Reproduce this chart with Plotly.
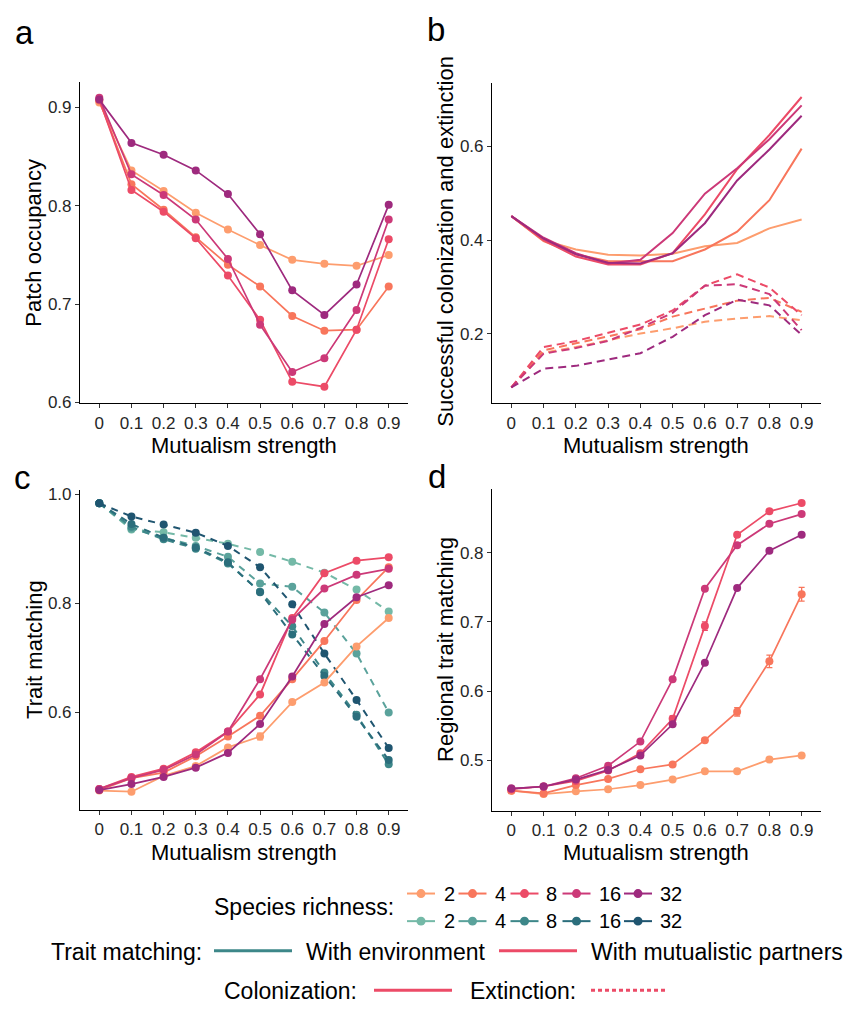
import plotly.graph_objects as go

W, H = 847, 1012

# ---------------- data ----------------
strength = [0, 0.1, 0.2, 0.3, 0.4, 0.5, 0.6, 0.7, 0.8, 0.9]
tick_labels = ["0", "0.1", "0.2", "0.3", "0.4", "0.5", "0.6", "0.7", "0.8", "0.9"]
richness = ["2", "4", "8", "16", "32"]

# a: patch occupancy
occ_2 = [0.905, 0.836, 0.815, 0.793, 0.776, 0.760, 0.745, 0.741, 0.739, 0.750]
occ_4 = [0.907, 0.822, 0.796, 0.768, 0.740, 0.718, 0.688, 0.673, 0.674, 0.718]
occ_8 = [0.908, 0.816, 0.794, 0.767, 0.729, 0.684, 0.621, 0.616, 0.674, 0.766]
occ_16 = [0.910, 0.832, 0.811, 0.786, 0.746, 0.679, 0.631, 0.645, 0.694, 0.786]
occ_32 = [0.908, 0.864, 0.852, 0.836, 0.812, 0.771, 0.714, 0.689, 0.720, 0.801]

# b: colonization (solid) and extinction (dashed)
col_2 = [0.451, 0.400, 0.380, 0.369, 0.367, 0.371, 0.387, 0.394, 0.425, 0.444]
col_4 = [0.451, 0.398, 0.370, 0.355, 0.355, 0.355, 0.380, 0.418, 0.485, 0.595]
col_8 = [0.451, 0.400, 0.365, 0.348, 0.348, 0.372, 0.455, 0.551, 0.624, 0.705]
col_16 = [0.451, 0.405, 0.372, 0.350, 0.358, 0.415, 0.499, 0.553, 0.615, 0.687]
col_32 = [0.451, 0.403, 0.370, 0.352, 0.350, 0.372, 0.436, 0.527, 0.593, 0.665]
ext_2 = [0.086, 0.160, 0.172, 0.187, 0.201, 0.212, 0.226, 0.233, 0.238, 0.229]
ext_4 = [0.086, 0.165, 0.180, 0.195, 0.210, 0.237, 0.254, 0.271, 0.277, 0.247]
ext_8 = [0.086, 0.172, 0.185, 0.202, 0.220, 0.250, 0.303, 0.327, 0.299, 0.240]
ext_16 = [0.086, 0.158, 0.170, 0.185, 0.213, 0.245, 0.303, 0.306, 0.285, 0.208]
ext_32 = [0.086, 0.126, 0.132, 0.145, 0.159, 0.194, 0.240, 0.273, 0.261, 0.198]

# c: trait matching with partners (solid) and environment (dashed)
tmp_2 = [0.457, 0.455, 0.484, 0.502, 0.536, 0.556, 0.619, 0.655, 0.721, 0.773]
tmp_4 = [0.458, 0.480, 0.490, 0.520, 0.556, 0.594, 0.661, 0.731, 0.806, 0.866]
tmp_8 = [0.460, 0.482, 0.497, 0.527, 0.565, 0.633, 0.773, 0.855, 0.878, 0.884]
tmp_16 = [0.460, 0.480, 0.495, 0.523, 0.565, 0.661, 0.770, 0.827, 0.852, 0.863]
tmp_32 = [0.458, 0.469, 0.482, 0.499, 0.526, 0.579, 0.666, 0.762, 0.811, 0.833]
tme_2 = [0.983, 0.935, 0.930, 0.920, 0.909, 0.894, 0.876, 0.856, 0.825, 0.785]
tme_4 = [0.983, 0.937, 0.920, 0.905, 0.885, 0.836, 0.830, 0.783, 0.708, 0.600]
tme_8 = [0.983, 0.940, 0.917, 0.900, 0.873, 0.821, 0.758, 0.673, 0.596, 0.505]
tme_16 = [0.983, 0.945, 0.920, 0.902, 0.875, 0.820, 0.743, 0.667, 0.592, 0.513]
tme_32 = [0.983, 0.959, 0.944, 0.929, 0.905, 0.866, 0.798, 0.708, 0.623, 0.535]
tmp_2_err = [0, 0, 0, 0, 0, 0.006, 0, 0, 0, 0]

# d: regional trait matching
reg_2 = [0.456, 0.451, 0.455, 0.458, 0.464, 0.472, 0.484, 0.484, 0.501, 0.507]
reg_4 = [0.456, 0.452, 0.464, 0.473, 0.487, 0.494, 0.529, 0.570, 0.643, 0.740]
reg_8 = [0.458, 0.462, 0.470, 0.485, 0.510, 0.560, 0.694, 0.826, 0.860, 0.872]
reg_16 = [0.459, 0.462, 0.474, 0.492, 0.527, 0.617, 0.748, 0.811, 0.842, 0.856]
reg_32 = [0.459, 0.462, 0.472, 0.486, 0.507, 0.552, 0.641, 0.749, 0.803, 0.826]
reg_4_err = [0, 0, 0, 0, 0, 0.002, 0.003, 0.006, 0.009, 0.010]
reg_8_err = [0, 0, 0, 0, 0, 0.004, 0.006, 0.003, 0, 0]

warm = ["#FD9D6E", "#F8765C", "#EC4B67", "#CC3978", "#9E2A7E"]
teal = ["#74B9A7", "#5AA29B", "#3D8789", "#2B6E7C", "#1F5570"]

FONT = "Liberation Sans, Arial, sans-serif"


def px(x):
    return x / W


def py(y):
    return 1 - y / H


fig = go.Figure()

# ---------------- traces ----------------
occ = [occ_2, occ_4, occ_8, occ_16, occ_32]
for i, s in enumerate(occ):
    fig.add_trace(go.Scatter(x=strength, y=s, mode="lines+markers", xaxis="x", yaxis="y",
                             line=dict(color=warm[i], width=1.7), marker=dict(color=warm[i], size=8),
                             showlegend=False))

cols = [col_2, col_4, col_8, col_16, col_32]
exts = [ext_2, ext_4, ext_8, ext_16, ext_32]
for i, s in enumerate(cols):
    fig.add_trace(go.Scatter(x=strength, y=s, mode="lines", xaxis="x2", yaxis="y2",
                             line=dict(color=warm[i], width=2), showlegend=False))
for i, s in enumerate(exts):
    fig.add_trace(go.Scatter(x=strength, y=s, mode="lines", xaxis="x2", yaxis="y2",
                             line=dict(color=warm[i], width=2, dash="8px,5px"), showlegend=False))

tme = [tme_2, tme_4, tme_8, tme_16, tme_32]
for i, s in enumerate(tme):
    fig.add_trace(go.Scatter(x=strength, y=s, mode="lines+markers", xaxis="x3", yaxis="y3",
                             line=dict(color=teal[i], width=2, dash="7px,6px"),
                             marker=dict(color=teal[i], size=8), showlegend=False))
tmp = [tmp_2, tmp_4, tmp_8, tmp_16, tmp_32]
for i, s in enumerate(tmp):
    err = tmp_2_err if i == 0 else None
    fig.add_trace(go.Scatter(x=strength, y=s, mode="lines+markers", xaxis="x3", yaxis="y3",
                             line=dict(color=warm[i], width=1.8), marker=dict(color=warm[i], size=8),
                             error_y=dict(type="data", array=err, color=warm[i], thickness=1.3, width=3,
                                          visible=err is not None),
                             showlegend=False))

reg = [reg_2, reg_4, reg_8, reg_16, reg_32]
regerr = [None, reg_4_err, reg_8_err, None, None]
for i, s in enumerate(reg):
    err = regerr[i]
    fig.add_trace(go.Scatter(x=strength, y=s, mode="lines+markers", xaxis="x4", yaxis="y4",
                             line=dict(color=warm[i], width=1.7), marker=dict(color=warm[i], size=8),
                             error_y=dict(type="data", array=err, color=warm[i], thickness=1.3, width=3,
                                          visible=err is not None),
                             showlegend=False))

# ---------------- axes ----------------
panels = {
    "": dict(x=(80, 408), y=(78, 404), yr=(0.599, 0.926), yt=[0.6, 0.7, 0.8, 0.9], ytt=["0.6", "0.7", "0.8", "0.9"]),
    "2": dict(x=(492, 821), y=(79, 404), yr=(0.052, 0.735), yt=[0.2, 0.4, 0.6], ytt=["0.2", "0.4", "0.6"]),
    "3": dict(x=(80, 408), y=(492, 816), yr=(0.422, 1.007), yt=[0.6, 0.8, 1.0], ytt=["0.6", "0.8", "1.0"]),
    "4": dict(x=(492, 821), y=(491, 817), yr=(0.427, 0.892), yt=[0.5, 0.6, 0.7, 0.8], ytt=["0.5", "0.6", "0.7", "0.8"]),
}
tickfont = dict(family=FONT, size=17, color="#262626")
for k, p in panels.items():
    common = dict(showline=True, linecolor="black", linewidth=1.1, ticks="outside", ticklen=4,
                  tickwidth=1, tickcolor="#333333", showgrid=False, zeroline=False, tickfont=tickfont,
                  fixedrange=True)
    fig.layout["xaxis" + k] = dict(domain=[px(p["x"][0]), px(p["x"][1])], anchor="y" + k,
                                   range=[-0.06, 0.96], tickvals=strength, ticktext=tick_labels, **common)
    fig.layout["yaxis" + k] = dict(domain=[py(p["y"][1]), py(p["y"][0])], anchor="x" + k,
                                   range=list(p["yr"]), tickvals=p["yt"], ticktext=p["ytt"], **common)

# ---------------- annotations ----------------
ann = []


def text(x, y, s, size=22, xanchor="center", angle=0):
    ann.append(dict(x=px(x), y=py(y), xref="paper", yref="paper", text=s, showarrow=False,
                    xanchor=xanchor, yanchor="middle", textangle=angle,
                    font=dict(family=FONT, size=size, color="black")))


# panel letters
text(13, 28, "a", 33, "left")
text(425, 25, "b", 33, "left")
text(12, 479, "c", 33, "left")
text(426, 478, "d", 33, "left")
# axis titles
text(34, 241, "Patch occupancy", 22, angle=-90)
text(446, 240, "Successful colonization and extinction", 22, angle=-90)
text(35, 654, "Trait matching", 22, angle=-90)
text(446, 654, "Regional trait matching", 22, angle=-90)
for xc in (244, 656):
    text(xc, 447, "Mutualism strength", 22)
    text(xc, 859, "Mutualism strength", 22)

# ---------------- legend (manual) ----------------
shapes = []
key_centers = [421, 472.5, 524.5, 576.5, 638]
label_x = [442, 493, 544, 597, 658]
for row, (yrow, pal) in enumerate([(901, warm), (929, teal)]):
    for i in range(5):
        xc = key_centers[i]
        shapes.append(dict(type="line", xref="paper", yref="paper", x0=px(xc - 14), x1=px(xc + 14),
                           y0=py(yrow), y1=py(yrow), line=dict(color=pal[i], width=2)))
        shapes.append(dict(type="circle", xref="paper", yref="paper", x0=px(xc - 4.5), x1=px(xc + 4.5),
                           y0=py(yrow + 4.5), y1=py(yrow - 4.5), fillcolor=pal[i], line=dict(width=0)))
        text(label_x[i], yrow, richness[i], 20, "left")
text(396, 915, "Species richness:", 23, "right")

text(204, 960, "Trait matching:", 23, "right")
shapes.append(dict(type="line", xref="paper", yref="paper", x0=px(214), x1=px(292), y0=py(959), y1=py(959),
                   line=dict(color="#3D8789", width=3)))
text(304, 960, "With environment", 23, "left")
shapes.append(dict(type="line", xref="paper", yref="paper", x0=px(499), x1=px(577), y0=py(959), y1=py(959),
                   line=dict(color="#EC4B67", width=3)))
text(589, 960, "With mutualistic partners", 23, "left")

text(359, 1000, "Colonization:", 23, "right")
shapes.append(dict(type="line", xref="paper", yref="paper", x0=px(374), x1=px(452), y0=py(999), y1=py(999),
                   line=dict(color="#EC4B67", width=3)))
text(468, 1000, "Extinction:", 23, "left")
shapes.append(dict(type="line", xref="paper", yref="paper", x0=px(591), x1=px(667), y0=py(999), y1=py(999),
                   line=dict(color="#EC4B67", width=3, dash="4px,3px")))

fig.update_layout(width=W, height=H, margin=dict(l=0, r=0, t=0, b=0), paper_bgcolor="white",
                  plot_bgcolor="white", annotations=ann, shapes=shapes, showlegend=False,
                  font=dict(family=FONT))

fig.write_html("out.html")
